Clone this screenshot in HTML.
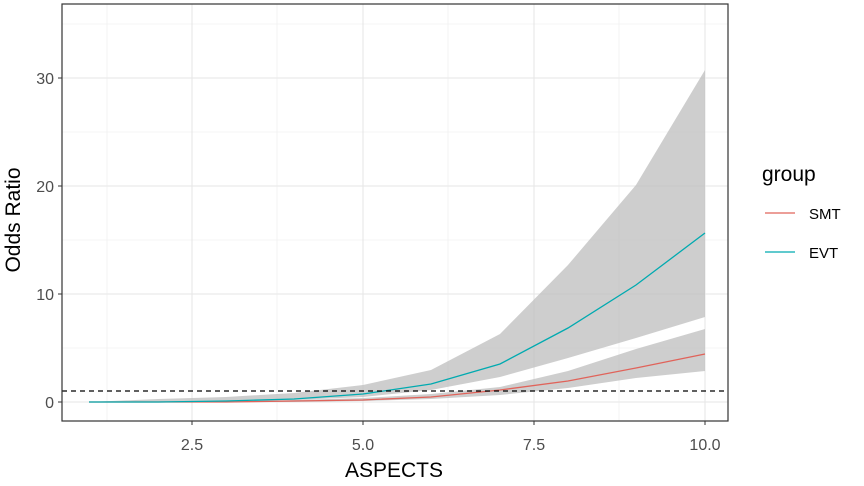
<!DOCTYPE html><html><head><style>body{margin:0;background:#fff}svg{display:block}text{font-family:"Liberation Sans",sans-serif}</style></head><body>
<svg width="864" height="486" xmlns="http://www.w3.org/2000/svg">
<rect width="864" height="486" fill="#fff"/>
<g stroke="#ebebeb" stroke-width="0.6">
<line x1="62" x2="728" y1="348" y2="348"/><line x1="62" x2="728" y1="240" y2="240"/><line x1="62" x2="728" y1="132" y2="132"/><line x1="62" x2="728" y1="24" y2="24"/>
<line x1="107" x2="107" y1="4" y2="421"/><line x1="277" x2="277" y1="4" y2="421"/><line x1="448" x2="448" y1="4" y2="421"/><line x1="619" x2="619" y1="4" y2="421"/>
</g>
<g stroke="#e6e6e6" stroke-width="1.1">
<line x1="62" x2="728" y1="402" y2="402"/><line x1="62" x2="728" y1="294" y2="294"/><line x1="62" x2="728" y1="186" y2="186"/><line x1="62" x2="728" y1="78" y2="78"/>
<line x1="192" x2="192" y1="4" y2="421"/><line x1="363" x2="363" y1="4" y2="421"/><line x1="534" x2="534" y1="4" y2="421"/><line x1="705" x2="705" y1="4" y2="421"/>
</g>
<polygon fill="#bdbdbd" fill-opacity="0.75" points="89,402 158,399 226,397 294,393 363,385 431,370 500,334 568,265 636,185 705,70 705,317 636,338 568,358 500,377 431,390 363,397 294,400 226,401 158,402 89,402"/>
<polygon fill="#bdbdbd" fill-opacity="0.75" points="89,402 158,402 226,401 294,400 363,398 431,394 500,387 568,371 636,349 705,329 705,371 636,378 568,388 500,395 431,399 363,401 294,402 226,402 158,402 89,402"/>
<polyline fill="none" stroke="#e0635a" stroke-width="1.3" points="89,402 158,402 226,402 294,401 363,400 431,397 500,390 568,381 636,368 705,354"/>
<polyline fill="none" stroke="#00aab0" stroke-width="1.3" points="89,402 158,402 226,401 294,399 363,394 431,384 500,364 568,328 636,285 705,233"/>
<line x1="62" x2="728" y1="391" y2="391" stroke="#000" stroke-width="1.3" stroke-dasharray="5,4"/>
<rect x="62" y="4" width="666" height="417" fill="none" stroke="#333" stroke-width="1.2"/>
<g stroke="#333" stroke-width="1">
<line x1="58" x2="62" y1="402" y2="402"/><line x1="58" x2="62" y1="294" y2="294"/><line x1="58" x2="62" y1="186" y2="186"/><line x1="58" x2="62" y1="78" y2="78"/>
<line x1="192" x2="192" y1="421" y2="425"/><line x1="363" x2="363" y1="421" y2="425"/><line x1="534" x2="534" y1="421" y2="425"/><line x1="705" x2="705" y1="421" y2="425"/>
</g>
<g fill="#4d4d4d" font-size="16" text-anchor="end">
<text x="54" y="408">0</text><text x="54" y="300">10</text><text x="54" y="192">20</text><text x="54" y="84">30</text>
</g>
<g fill="#4d4d4d" font-size="16" text-anchor="middle">
<text x="192" y="450">2.5</text><text x="363" y="450">5.0</text><text x="534" y="450">7.5</text><text x="705" y="450">10.0</text>
</g>
<text x="394" y="477" font-size="21" text-anchor="middle" fill="#000">ASPECTS</text>
<text transform="translate(20,220) rotate(-90)" font-size="21" text-anchor="middle" fill="#000">Odds Ratio</text>
<text x="762" y="181" font-size="21" fill="#000">group</text>
<line x1="765" x2="795" y1="213" y2="213" stroke="#e0635a" stroke-width="1.3"/>
<line x1="765" x2="795" y1="252" y2="252" stroke="#00aab0" stroke-width="1.3"/>
<text x="809" y="219" font-size="15" fill="#000">SMT</text>
<text x="809" y="258" font-size="15" fill="#000">EVT</text>
</svg></body></html>
